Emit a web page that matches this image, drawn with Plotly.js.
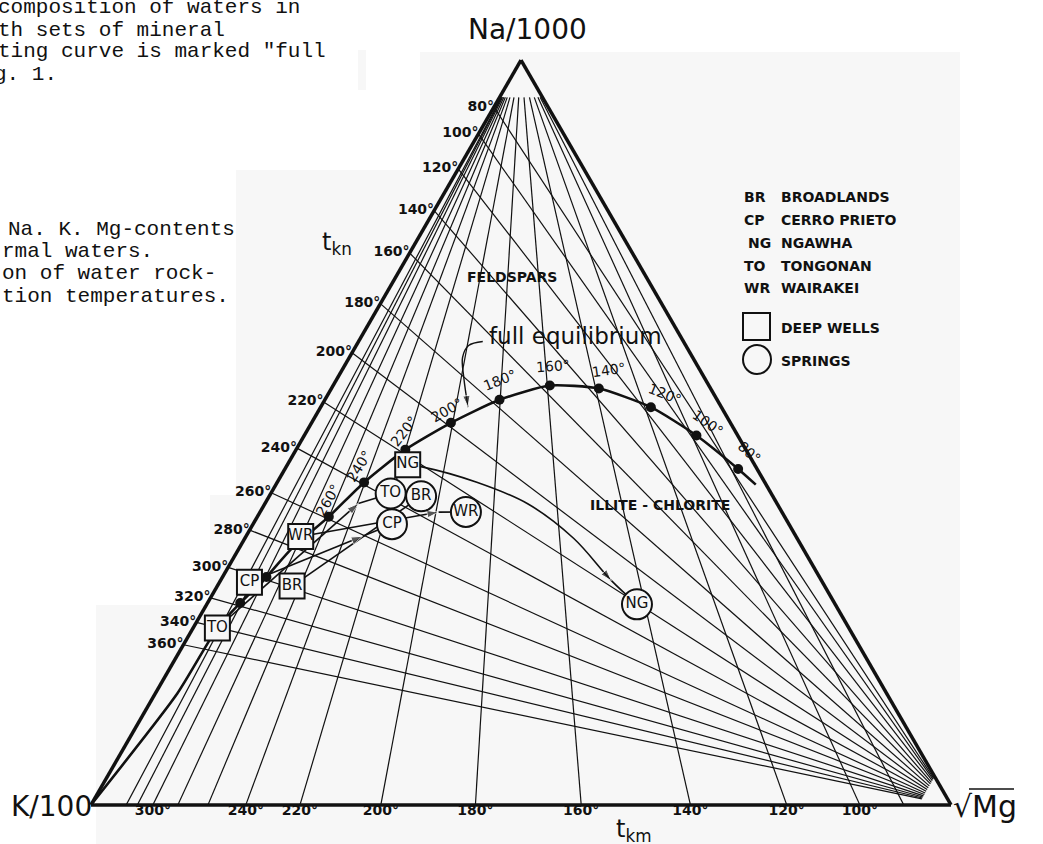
<!DOCTYPE html>
<html><head><meta charset="utf-8">
<script src="https://cdn.plot.ly/plotly-3.0.1.min.js"></script>
<style>html,body{margin:0;padding:0;background:#fff}</style>
</head><body>
<div id="chart" style="width:1043px;height:844px"></div>
<script>
// ---------------- data ----------------
// K-Na isotherms (t_kn): Na fraction where each line meets the Na-K side
const tknTemps = [80,100,120,140,160,180,200,220,240,260,280,300,320,340,360];
const tknNa    = [0.937,0.901,0.854,0.798,0.741,0.673,0.607,0.541,0.479,0.419,0.369,0.319,0.278,0.245,0.215];
// K-Mg isotherms (t_km): Mg fraction where each line meets the K-Mg side
const tkmTemps = [80,100,120,140,160,180,200,220,240,260,280,300,320,340];
const tkmMg    = [0.945,0.894,0.809,0.697,0.570,0.447,0.337,0.243,0.180,0.136,0.101,0.072,0.054,0.041];
const tkmLabelled = [300,240,220,200,180,160,140,120,100];
// full equilibrium curve points
const eqTemps = [80,100,120,140,160,180,200,220,240,260,280,300,320];
const eqNa = [0.451,0.496,0.534,0.559,0.563,0.544,0.513,0.477,0.433,0.387,0.343,0.306,0.271];
const eqK  = [0.022,0.048,0.082,0.130,0.185,0.253,0.325,0.396,0.466,0.530,0.596,0.643,0.691];
const eqMg = [0.527,0.456,0.384,0.311,0.252,0.203,0.162,0.127,0.101,0.083,0.061,0.051,0.038];
const eqLabelled = [80,100,120,140,160,180,200,220,240,260];
const eqHiddenDot = [280];
// curve continuation beyond the labelled points
const eqEndHighNa = [0.2375,0.1495,0.0];
const eqEndHighK  = [0.7343,0.8249,1.0];
const eqEndHighMg = [0.0282,0.0256,0.0];
const eqEndLowNa = [0.430];
const eqEndLowK  = [0.012];
const eqEndLowMg = [0.558];
// sites
const siteCodes = ['BR','CP','NG','TO','WR'];
const siteNames = ['BROADLANDS','CERRO PRIETO','NGAWHA','TONGONAN','WAIRAKEI'];
const wellNa = [0.2938,0.2989,0.4567,0.2375,0.3603];
const wellK  = [0.6193,0.6663,0.4034,0.7343,0.5760];
const wellMg = [0.0869,0.0348,0.1399,0.0282,0.0637];
const springNa = [0.4143,0.3769,0.2693,0.4181,0.3933];
const springK  = [0.4090,0.4616,0.2305,0.4425,0.3674];
const springMg = [0.1767,0.1615,0.5002,0.1394,0.2393];
// arrow head positions on the straight well -> spring paths (BR none visible)
const arrowSites = ['CP','TO','WR'];
const arrowNa = [0.3607,0.4046,0.3931];
const arrowK  = [0.5038,0.4869,0.3994];
const arrowMg = [0.1355,0.1085,0.2075];
// Ngawha curved path
const ngPathNa = [0.4567,0.4542,0.4332,0.4043,0.3580,0.3011,0.2693];
const ngPathK  = [0.4034,0.3893,0.3348,0.2901,0.2599,0.2443,0.2305];
const ngPathMg = [0.1399,0.1565,0.2320,0.3056,0.3821,0.4546,0.5002];
// "full equilibrium" pointer
const ptrNa = [0.6221,0.6167,0.6007,0.5741,0.5342];
const ptrK  = [0.2334,0.2526,0.2676,0.2795,0.2945];
const ptrMg = [0.1445,0.1307,0.1317,0.1464,0.1713];

// ---------------- layout helpers ----------------
const W=1043,H=844;
const M={l:91,r:92,t:60,b:39};
const PW=W-M.l-M.r, PH=H-M.t-M.b;
const FONT='DejaVu Sans, Arial, sans-serif';
const MONO='Liberation Mono, Courier New, monospace';
const INK='#111';
function P(x,y){return {x:(x-M.l)/PW, y:1-(y-M.t)/PH};}
function ann(x,y,text,o){
  o=o||{};
  const p=P(x,y);
  return {xref:'paper',yref:'paper',x:p.x,y:p.y,text:text,showarrow:false,
    xanchor:o.xanchor||'center',yanchor:o.yanchor||'middle',textangle:o.angle||0,
    font:{family:o.family||FONT,size:o.size||14,color:INK,weight:o.weight||'normal'}};
}
function rect(x0,y0,x1,y1,fill){
  const a=P(x0,y0), b=P(x1,y1);
  return {type:'rect',xref:'paper',yref:'paper',x0:a.x,y0:a.y,x1:b.x,y1:b.y,
    fillcolor:fill,line:{width:0},layer:'below'};
}

// ---------------- traces ----------------
const traces=[];
const END=0.962;
// t_kn lines: from Na-K side toward the sqrt(Mg) apex
(function(){
  const a=[],b=[],c=[];
  tknNa.forEach(n=>{a.push(n,n*(1-END),null);b.push(1-n,(1-n)*(1-END),null);c.push(0,END,null);});
  traces.push({type:'scatterternary',mode:'lines',a,b,c,line:{color:INK,width:1.2},hoverinfo:'skip',cliponaxis:false});
})();
// t_km lines: from K-Mg side toward the Na apex
(function(){
  const a=[],b=[],c=[];
  const TOP=0.95;
  tkmMg.forEach(m=>{a.push(0,TOP,null);b.push(1-m,(1-m)*(1-TOP),null);c.push(m,m*(1-TOP),null);});
  traces.push({type:'scatterternary',mode:'lines',a,b,c,line:{color:INK,width:1.2},hoverinfo:'skip',cliponaxis:false});
})();
// isotherm labels
const LABFONT={family:FONT,size:14,color:INK,weight:'bold'};
traces.push({type:'scatterternary',mode:'text',a:tknNa,b:tknNa.map(n=>1-n),c:tknNa.map(()=>0),
  text:tknTemps.map(t=>t+'°'),textposition:'middle left',cliponaxis:false,hoverinfo:'skip',
  textfont:LABFONT});
(function(){
  const m=tkmLabelled.map(t=>tkmMg[tkmTemps.indexOf(t)]);
  traces.push({type:'scatterternary',mode:'text',a:m.map(()=>0),b:m.map(v=>1-v),c:m,
    text:tkmLabelled.map(t=>t+'°'),textposition:'bottom center',cliponaxis:false,hoverinfo:'skip',
    textfont:LABFONT});
})();
// full equilibrium curve
traces.push({type:'scatterternary',mode:'lines',
  a:eqEndLowNa.concat(eqNa,eqEndHighNa),b:eqEndLowK.concat(eqK,eqEndHighK),c:eqEndLowMg.concat(eqMg,eqEndHighMg),
  line:{color:INK,width:2.6,shape:'spline',smoothing:0.6},cliponaxis:false,hoverinfo:'skip'});
// dots
(function(){
  const idx=eqTemps.map((t,i)=>i).filter(i=>eqHiddenDot.indexOf(eqTemps[i])<0);
  traces.push({type:'scatterternary',mode:'markers',a:idx.map(i=>eqNa[i]),b:idx.map(i=>eqK[i]),c:idx.map(i=>eqMg[i]),
    marker:{color:INK,size:10},cliponaxis:false,hoverinfo:'skip'});
})();
// pointer from "full equilibrium"
traces.push({type:'scatterternary',mode:'lines+markers',a:ptrNa,b:ptrK,c:ptrMg,
  line:{color:INK,width:1.4,shape:'spline'},marker:{symbol:'arrow',size:ptrNa.map((v,i)=>i===ptrNa.length-1?12:0),angleref:'previous',color:INK},
  cliponaxis:false,hoverinfo:'skip'});
// straight well -> spring paths
siteCodes.forEach((s,i)=>{
  const j=arrowSites.indexOf(s);
  if(s==='NG')return;
  let a=[wellNa[i]],b=[wellK[i]],c=[wellMg[i]],sz=[0];
  if(j>=0){a.push(arrowNa[j]);b.push(arrowK[j]);c.push(arrowMg[j]);sz.push(12);}
  a.push(springNa[i]);b.push(springK[i]);c.push(springMg[i]);sz.push(0);
  traces.push({type:'scatterternary',mode:'lines+markers',a,b,c,line:{color:INK,width:1.6},
    marker:{symbol:'arrow',size:sz,angleref:'previous',color:INK},cliponaxis:false,hoverinfo:'skip'});
});
// Ngawha curved path
traces.push({type:'scatterternary',mode:'lines+markers',a:ngPathNa,b:ngPathK,c:ngPathMg,
  line:{color:INK,width:1.6,shape:'spline'},
  marker:{symbol:'arrow',size:ngPathNa.map((v,i)=>i===5?12:0),angleref:'previous',color:INK},cliponaxis:false,hoverinfo:'skip'});
// deep wells (squares) and springs (circles)
const SITEFONT={family:FONT,size:15,color:INK};
traces.push({type:'scatterternary',mode:'markers+text',a:wellNa,b:wellK,c:wellMg,text:siteCodes,
  textposition:'middle center',textfont:SITEFONT,
  marker:{symbol:'square',size:25,color:'#f7f7f7',line:{color:INK,width:2}},cliponaxis:false,hoverinfo:'skip'});
traces.push({type:'scatterternary',mode:'markers+text',a:springNa,b:springK,c:springMg,text:siteCodes,
  textposition:'middle center',textfont:SITEFONT,
  marker:{symbol:'circle',size:30,color:'#f7f7f7',line:{color:INK,width:2}},cliponaxis:false,hoverinfo:'skip'});

// ---------------- annotations ----------------
const anns=[];
anns.push(ann(527,29,'Na/1000',{size:28}));
anns.push(ann(94,806,'K/100',{size:28,xanchor:'right'}));
anns.push(ann(951,806,'√Mg',{size:30,xanchor:'left'}));
anns.push(ann(337,243,'t<sub>kn</sub>',{size:24}));
anns.push(ann(634,830,'t<sub>km</sub>',{size:24}));
anns.push(ann(512,277,'FELDSPARS',{size:14,weight:'bold'}));
anns.push(ann(660,505,'ILLITE - CHLORITE',{size:14,weight:'bold'}));
anns.push(ann(487,336,'full equilibrium',{size:23,xanchor:'left'}));
// labels along the equilibrium curve
const eqLabPos = {80:[749,452,42],100:[708,423,35],120:[665,394,22],140:[609,370,-8],160:[553,366,-4],
  180:[500,380,-22],200:[447,410,-30],220:[404,431,-52],240:[359,466,-58],260:[328,500,-60]};
eqLabelled.forEach(t=>{const p=eqLabPos[t];anns.push(ann(p[0],p[1],t+'°',{size:14,angle:p[2]}));});
// legend
const legY=[197,220,243,266,288];
siteCodes.forEach((s,i)=>{
  anns.push(ann(s==='NG'?746:742,legY[i],s,{size:14,xanchor:'left',weight:'bold'}));
  anns.push(ann(779,legY[i],siteNames[i],{size:14,xanchor:'left',weight:'bold'}));
});
anns.push(ann(779,328,'DEEP WELLS',{size:14,xanchor:'left',weight:'bold'}));
anns.push(ann(779,361,'SPRINGS',{size:14,xanchor:'left',weight:'bold'}));
// scanned text fragments at left
const txt1=['composition of waters in','th sets of mineral','ting curve is marked "full','g. 1.'];
const txt1X=[-4,-4,-4,-8], txt1Y=[8,30,52,75];
txt1.forEach((t,i)=>anns.push(ann(txt1X[i],txt1Y[i],t,{family:MONO,size:21,xanchor:'left'})));
const txt2=['Na. K. Mg-contents','rmal waters.','on of water rock-','tion temperatures.'];
const txt2X=[6,0,0,0], txt2Y=[229,251,273,296];
txt2.forEach((t,i)=>anns.push(ann(txt2X[i],txt2Y[i],t,{family:MONO,size:21,xanchor:'left'})));

// ---------------- shapes ----------------
const G='#f7f7f7';
const shapes=[
  rect(420,52,960,844,G), rect(236,170,420,844,G), rect(210,495,236,844,G), rect(96,605,210,844,G),
  rect(358,50,366,90,G)
];
// legend symbols
(function(){
  const a=P(743,313), b=P(770,340);
  shapes.push({type:'rect',xref:'paper',yref:'paper',x0:a.x,y0:a.y,x1:b.x,y1:b.y,line:{color:INK,width:2},fillcolor:'rgba(0,0,0,0)'});
  const c=P(743,345), d=P(771,374);
  shapes.push({type:'circle',xref:'paper',yref:'paper',x0:c.x,y0:c.y,x1:d.x,y1:d.y,line:{color:INK,width:2},fillcolor:'rgba(0,0,0,0)'});
  const e=P(969,789), f=P(1014,789);
  shapes.push({type:'line',xref:'paper',yref:'paper',x0:e.x,y0:e.y,x1:f.x,y1:f.y,line:{color:INK,width:1.5}});
})();

const axisCommon={showticklabels:false,showgrid:false,ticks:'',showline:true,linecolor:INK,linewidth:3.5,title:{text:''},min:0};
const layout={
  width:W,height:H,margin:M,paper_bgcolor:'#fff',showlegend:false,
  ternary:{sum:1,domain:{x:[0,1],y:[0,1]},bgcolor:'rgba(0,0,0,0)',
    aaxis:axisCommon,baxis:axisCommon,caxis:axisCommon},
  annotations:anns,shapes:shapes
};
Plotly.newPlot('chart',traces,layout,{staticPlot:true,displayModeBar:false});
</script>
</body></html>
